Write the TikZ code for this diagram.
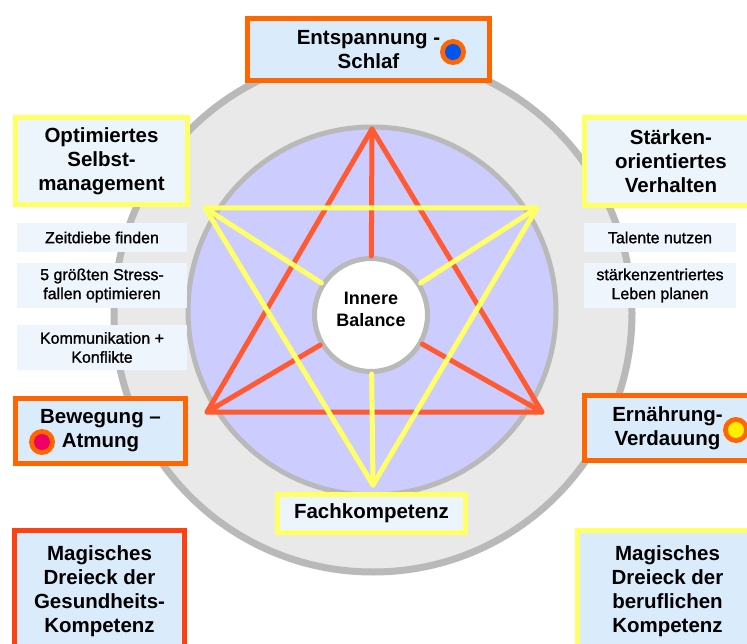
\documentclass[tikz,border=0pt]{standalone}
\usepackage{fontspec}
\setmainfont{Liberation Sans}
\newfontfamily\smallfam[FakeBold=1.2]{Liberation Sans}
\definecolor{orng}{RGB}{255,102,0}
\definecolor{redor}{RGB}{255,64,16}
\definecolor{yel}{RGB}{255,255,102}
\definecolor{trired}{RGB}{255,90,50}
\definecolor{boxfill}{RGB}{218,236,252}
\definecolor{lightfill}{RGB}{236,244,252}
\definecolor{smallfill}{RGB}{238,245,252}
\definecolor{ringfill}{RGB}{233,233,233}
\definecolor{ringline}{RGB}{185,185,185}
\definecolor{lav}{RGB}{204,204,255}
\definecolor{dotblue}{RGB}{0,85,238}
\definecolor{dotmag}{RGB}{238,0,102}
\definecolor{dotyel}{RGB}{255,238,0}
\tikzset{
  titlebox/.style={draw, line width=5pt, fill=boxfill, inner sep=0pt, align=center,
    font=\fontsize{20.5}{24}\selectfont\bfseries},
  smallbox/.style={fill=smallfill, inner sep=0pt, align=center,
    font=\smallfam\fontsize{16}{19}\selectfont},
  triline/.style={line width=5pt, line cap=round, line join=round},
  dotout/.style={circle, fill=orng, minimum size=26pt, inner sep=0pt},
  dotin/.style={circle, minimum size=16pt, inner sep=0pt}
}
\begin{document}
\begin{tikzpicture}[x=1pt,y=-1pt]
\useasboundingbox (0,0) rectangle (747,644);
\clip (0,0) rectangle (747,644);
\fill[white] (0,0) rectangle (747,644);
% rings
\filldraw[fill=ringfill, draw=ringline, line width=7pt] (373,313) circle[radius=259];
\filldraw[fill=lav, draw=ringline, line width=5pt] (372,311) circle[radius=184];
% triangle vertices
\coordinate (ra) at (372,129);
\coordinate (rl) at (207,412);
\coordinate (rr) at (542,412);
\coordinate (yl) at (205,208);
\coordinate (yr) at (537,208);
\coordinate (yb) at (373,485);
\node[circle, draw=ringline, fill=white, line width=5pt, minimum size=113pt, inner sep=0pt] (bal) at (371,315) {};
\node[align=center, inner sep=0pt, font=\fontsize{18}{22}\selectfont\bfseries] (baltext) at (371,309) {Innere\\Balance};
% red triangle
\draw[triline, trired] (ra) -- (rl) -- (rr) -- cycle;
\draw[triline, trired] (ra) -- (bal);
\draw[triline, trired] (rl) -- (bal);
\draw[triline, trired] (rr) -- (bal);
% yellow triangle
\draw[triline, yel] (yl) -- (yr) -- (yb) -- cycle;
\draw[triline, yel] (yl) -- (bal);
\draw[triline, yel] (yr) -- (bal);
\draw[triline, yel] (yb) -- (bal);
% title boxes
\node[titlebox, draw=orng, minimum width=242pt, minimum height=62pt] (ent) at (368.5,50) {Entspannung -\\Schlaf};
\node[titlebox, draw=yel, fill=lightfill, minimum width=172pt, minimum height=87pt] (opt) at (101.5,161) {Optimiertes\\Selbst-\\management};
\node[titlebox, draw=orng, minimum width=170pt, minimum height=65pt] (bew) at (100.5,431) {Bewegung --\\Atmung};
\node[titlebox, draw=yel, fill=lightfill, minimum width=173pt, minimum height=88pt] (str) at (671,161.5) {Stärken-\\orientiertes\\Verhalten};
\node[titlebox, draw=orng, minimum width=166pt, minimum height=65pt] (ern) at (667.5,428) {Ernährung-\\Verdauung};
\node[titlebox, draw=yel, fill=lightfill, minimum width=188pt, minimum height=38pt] (fach) at (371.5,513.5) {Fachkompetenz};
\node[titlebox, draw=redor, minimum width=170pt, minimum height=121pt] (mag1) at (99.5,591) {Magisches\\Dreieck der\\Gesundheits-\\Kompetenz};
\node[titlebox, draw=yel, minimum width=180pt, minimum height=121pt] (mag2) at (667.5,591) {Magisches\\Dreieck der\\beruflichen\\Kompetenz};
% small boxes
\node[smallbox, minimum width=170pt, minimum height=29pt] (z1) at (102,237.5) {Zeitdiebe finden};
\node[smallbox, minimum width=170pt, minimum height=45pt] (z2) at (102,285.5) {5 größten Stress-\\fallen optimieren};
\node[smallbox, minimum width=170pt, minimum height=45pt] (z3) at (102,347.5) {Kommunikation +\\Konflikte};
\node[smallbox, minimum width=152pt, minimum height=29pt] (r1) at (660,237.5) {Talente nutzen};
\node[smallbox, minimum width=152pt, minimum height=45pt] (r2) at (660,285.5) {stärkenzentriertes\\Leben planen};
% dots
\node[dotout] (d1) at (453,52) {};
\node[dotin, fill=dotblue] at (d1) {};
\node[dotout] (d2) at (42,442) {};
\node[dotin, fill=dotmag] at (d2) {};
\node[dotout] (d3) at (736,430) {};
\node[dotin, fill=dotyel] at (d3) {};
\end{tikzpicture}
\end{document}
